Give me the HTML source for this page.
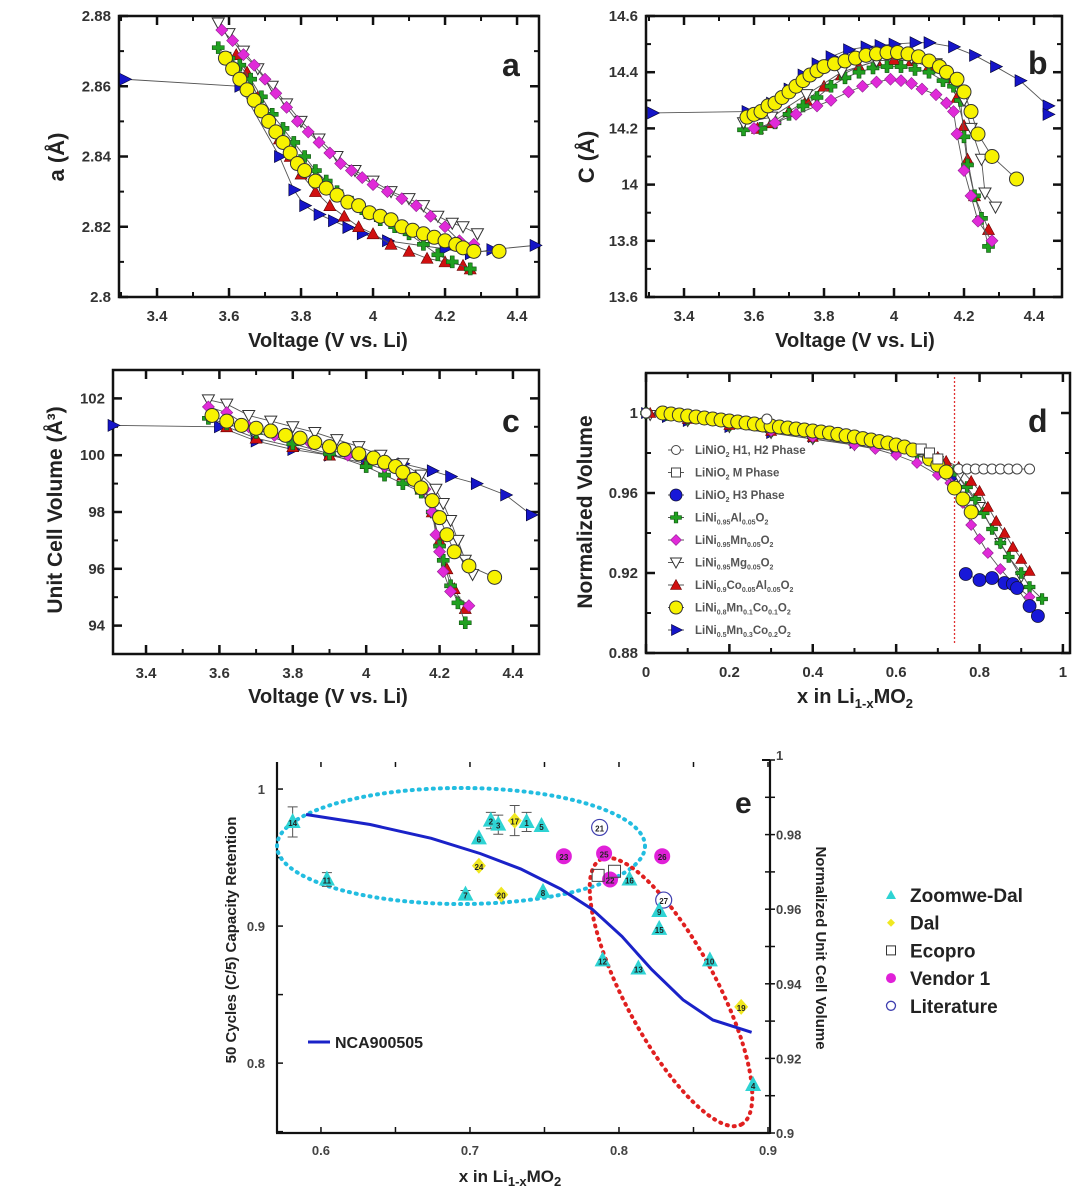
<!DOCTYPE html>
<html><head><meta charset="utf-8"><style>
body{margin:0;background:#fff;}
svg{display:block;font-family:"Liberation Sans",Arial,sans-serif;}
</style></head><body>
<svg id="fig" width="1080" height="1191" viewBox="0 0 1080 1191" xmlns="http://www.w3.org/2000/svg"></svg>
<script>
// ---------- data: panel a (voltage vs a) ----------
const aBlueV=[3.31,3.63,3.74,3.78,3.81,3.85,3.89,3.93,3.97,4.04,4.20,4.27,4.33,4.45];
const aBlueY=[2.862,2.860,2.840,2.8305,2.826,2.8235,2.8217,2.8198,2.818,2.816,2.8137,2.8123,2.8135,2.8147];
const aRedV=[3.62,3.65,3.68,3.71,3.74,3.77,3.80,3.84,3.88,3.92,3.96,4.0,4.05,4.1,4.15,4.2,4.25,4.27];
const aRedY=[2.869,2.864,2.857,2.851,2.845,2.840,2.835,2.830,2.826,2.823,2.820,2.818,2.815,2.813,2.811,2.810,2.809,2.808];
const aGreenV=[3.57,3.6,3.63,3.66,3.69,3.72,3.75,3.78,3.81,3.84,3.87,3.9,3.94,3.98,4.02,4.06,4.10,4.14,4.18,4.22,4.27];
const aGreenY=[2.871,2.868,2.866,2.862,2.857,2.852,2.848,2.844,2.840,2.836,2.833,2.830,2.827,2.824,2.822,2.820,2.818,2.815,2.812,2.810,2.808];
const aMgV=[3.57,3.6,3.64,3.68,3.72,3.76,3.8,3.85,3.9,3.95,4.0,4.05,4.1,4.14,4.18,4.22,4.25,4.29];
const aMgY=[2.878,2.875,2.870,2.865,2.860,2.855,2.850,2.845,2.840,2.836,2.833,2.830,2.828,2.826,2.823,2.821,2.820,2.818];
const aMnV=[3.58,3.61,3.64,3.67,3.70,3.73,3.76,3.79,3.82,3.85,3.88,3.91,3.94,3.97,4.0,4.04,4.08,4.12,4.16,4.20,4.24,4.28];
const aMnY=[2.876,2.873,2.869,2.866,2.862,2.858,2.854,2.850,2.847,2.844,2.841,2.838,2.836,2.834,2.832,2.830,2.828,2.826,2.823,2.820,2.816,2.815];
const aYelV=[3.59,3.61,3.63,3.65,3.67,3.69,3.71,3.73,3.75,3.77,3.79,3.81,3.84,3.87,3.90,3.93,3.96,3.99,4.02,4.05,4.08,4.11,4.14,4.17,4.20,4.23,4.25,4.28,4.35];
const aYelY=[2.868,2.865,2.862,2.859,2.856,2.853,2.850,2.847,2.844,2.841,2.838,2.836,2.833,2.831,2.829,2.827,2.826,2.824,2.823,2.822,2.820,2.819,2.818,2.817,2.816,2.815,2.814,2.813,2.813];
// ---------- panel b (voltage vs c) ----------
const bBlueV=[3.31,3.58,3.65,3.70,3.74,3.78,3.82,3.87,3.92,3.96,4.0,4.06,4.10,4.17,4.23,4.29,4.36,4.44,4.44];
const bBlueY=[14.255,14.26,14.29,14.34,14.39,14.43,14.455,14.48,14.49,14.495,14.5,14.505,14.505,14.49,14.46,14.42,14.37,14.28,14.25];
const bRedV=[3.61,3.65,3.7,3.75,3.8,3.85,3.9,3.95,4.0,4.05,4.1,4.15,4.18,4.2,4.21,4.23,4.27];
const bRedY=[14.2,14.22,14.26,14.30,14.35,14.39,14.42,14.44,14.445,14.44,14.42,14.38,14.31,14.21,14.09,13.96,13.84];
const bGreenV=[3.57,3.62,3.66,3.70,3.74,3.78,3.82,3.86,3.9,3.94,3.98,4.02,4.06,4.10,4.14,4.17,4.19,4.2,4.21,4.23,4.25,4.27];
const bGreenY=[14.195,14.20,14.22,14.25,14.28,14.31,14.35,14.38,14.40,14.415,14.42,14.42,14.41,14.40,14.37,14.35,14.30,14.17,14.07,13.96,13.88,13.78];
const bMgV=[3.57,3.65,3.75,3.85,3.95,4.05,4.12,4.17,4.2,4.22,4.25,4.26,4.29];
const bMgY=[14.22,14.24,14.32,14.40,14.44,14.45,14.43,14.38,14.30,14.20,14.09,13.97,13.92];
const bMnV=[3.6,3.66,3.72,3.78,3.82,3.87,3.91,3.95,3.99,4.02,4.05,4.08,4.12,4.15,4.17,4.18,4.2,4.22,4.24,4.28];
const bMnY=[14.2,14.22,14.25,14.28,14.30,14.33,14.35,14.365,14.375,14.37,14.36,14.34,14.32,14.29,14.26,14.18,14.05,13.96,13.87,13.80];
const bYelV=[3.58,3.6,3.62,3.64,3.66,3.68,3.70,3.72,3.74,3.76,3.78,3.80,3.83,3.86,3.89,3.92,3.95,3.98,4.01,4.04,4.07,4.1,4.13,4.15,4.18,4.2,4.22,4.24,4.28,4.35];
const bYelY=[14.24,14.25,14.26,14.28,14.29,14.31,14.33,14.35,14.37,14.39,14.405,14.42,14.43,14.44,14.45,14.46,14.465,14.47,14.47,14.465,14.455,14.44,14.42,14.40,14.375,14.33,14.26,14.18,14.10,14.02];
// ---------- panel c (voltage vs volume) ----------
const cBlueV=[3.31,3.6,3.7,3.8,3.9,4.0,4.1,4.18,4.23,4.3,4.38,4.45];
const cBlueY=[101.05,101.0,100.5,100.2,100.0,99.85,99.7,99.45,99.25,99.0,98.6,97.9];
const cRedV=[3.62,3.7,3.8,3.9,4.0,4.1,4.15,4.18,4.2,4.22,4.24,4.27];
const cRedY=[101.0,100.6,100.3,100.0,99.7,99.3,98.8,98.0,97.0,96.0,95.3,94.6];
const cGreenV=[3.57,3.62,3.7,3.8,3.9,4.0,4.05,4.1,4.15,4.18,4.2,4.21,4.23,4.25,4.27];
const cGreenY=[101.3,101.1,100.8,100.4,100.05,99.6,99.3,99.0,98.7,98.0,96.8,96.3,95.4,94.8,94.1];
const cMgV=[3.57,3.62,3.68,3.74,3.8,3.86,3.92,3.98,4.04,4.1,4.15,4.19,4.21,4.23,4.25,4.27,4.29];
const cMgY=[101.95,101.8,101.4,101.2,101.0,100.8,100.55,100.3,100.0,99.7,99.3,98.8,98.3,97.7,97.0,96.3,95.8];
const cMnV=[3.57,3.62,3.68,3.75,3.85,3.95,4.05,4.12,4.16,4.18,4.19,4.2,4.21,4.23,4.28];
const cMnY=[101.7,101.5,101.0,100.7,100.4,100.0,99.6,99.2,98.8,98.0,97.2,96.6,95.9,95.2,94.7];
const cYelV=[3.58,3.62,3.66,3.7,3.74,3.78,3.82,3.86,3.9,3.94,3.98,4.02,4.05,4.08,4.1,4.13,4.15,4.18,4.2,4.22,4.24,4.28,4.35];
const cYelY=[101.4,101.2,101.05,100.95,100.85,100.7,100.6,100.45,100.3,100.2,100.05,99.9,99.75,99.6,99.4,99.15,98.85,98.4,97.8,97.2,96.6,96.1,95.7];
// ---------- panel d (x vs normalized volume) ----------
const dOcX=[0,0.29,0.75,0.77,0.79,0.81,0.83,0.85,0.87,0.89,0.92];
const dOcY=[1.0,0.997,0.972,0.972,0.972,0.972,0.972,0.972,0.972,0.972,0.972];
const dOsX=[0.66,0.68,0.70];
const dOsY=[0.982,0.980,0.977];
const dBcX=[0.767,0.80,0.83,0.86,0.88,0.89,0.92,0.94];
const dBcY=[0.9195,0.9165,0.9175,0.915,0.9145,0.9125,0.9035,0.8985];
const dBlueX=[0,0.05,0.1,0.2,0.3,0.4,0.5,0.6,0.7,0.74];
const dBlueY=[1.0,0.998,0.996,0.993,0.990,0.988,0.985,0.982,0.976,0.968];
const dGreenX=[0,0.05,0.1,0.2,0.3,0.4,0.5,0.6,0.65,0.7,0.74,0.77,0.79,0.81,0.83,0.85,0.87,0.9,0.92,0.95];
const dGreenY=[1.0,0.999,0.997,0.994,0.991,0.988,0.985,0.982,0.980,0.977,0.971,0.963,0.957,0.950,0.942,0.935,0.928,0.920,0.913,0.907];
const dRedX=[0.01,0.1,0.2,0.3,0.4,0.5,0.6,0.7,0.72,0.75,0.78,0.8,0.82,0.84,0.86,0.88,0.9,0.92];
const dRedY=[1.0,0.997,0.994,0.991,0.988,0.986,0.983,0.978,0.976,0.973,0.966,0.961,0.953,0.946,0.940,0.933,0.927,0.921];
const dMgX=[0.01,0.1,0.2,0.3,0.4,0.5,0.6,0.7,0.75,0.8,0.85,0.9];
const dMgY=[0.999,0.996,0.993,0.990,0.987,0.984,0.981,0.976,0.968,0.953,0.935,0.918];
const dMnX=[0.3,0.4,0.5,0.55,0.6,0.65,0.7,0.73,0.76,0.78,0.8,0.82,0.85,0.88,0.92];
const dMnY=[0.991,0.988,0.984,0.982,0.979,0.975,0.969,0.965,0.955,0.944,0.937,0.930,0.922,0.915,0.908];
const dYelX=[0.04,0.06,0.08,0.10,0.12,0.14,0.16,0.18,0.20,0.22,0.24,0.26,0.28,0.30,0.32,0.34,0.36,0.38,0.40,0.42,0.44,0.46,0.48,0.50,0.52,0.54,0.56,0.58,0.60,0.62,0.64,0.68,0.70,0.72,0.74,0.76,0.78];
const dYelY=[1.0,0.9995,0.999,0.9985,0.998,0.9975,0.997,0.9965,0.996,0.9955,0.995,0.9945,0.994,0.9935,0.993,0.9925,0.992,0.9915,0.991,0.9905,0.990,0.9893,0.9886,0.988,0.9872,0.9865,0.9857,0.985,0.984,0.983,0.9815,0.977,0.974,0.9705,0.9625,0.957,0.9505];
const dPhaseLineX=0.74;
// ---------- panel e (x vs retention) ----------
const eLabels=["14","11","6","2","3","17","1","5","24","7","20","8","23","21","25","22","26","E1","E2","16","27","9","15","12","13","10","19","4"];
const eKinds=["tri","tri","tri","tri","tri","dia","tri","tri","dia","tri","dia","tri","mag","lit","mag","mag","mag","sq","sq","tri","lit","tri","tri","tri","tri","tri","dia","tri"];
const eX=[0.581,0.604,0.706,0.714,0.719,0.730,0.738,0.748,0.706,0.697,0.721,0.749,0.763,0.787,0.79,0.794,0.829,0.786,0.797,0.807,0.83,0.827,0.827,0.789,0.813,0.861,0.882,0.89];
const eY=[0.976,0.934,0.964,0.977,0.974,0.977,0.976,0.973,0.944,0.923,0.923,0.925,0.951,0.972,0.953,0.934,0.951,0.937,0.940,0.934,0.919,0.911,0.898,0.875,0.869,0.875,0.841,0.784];
const eErr=[0.011,0.005,0,0.006,0.007,0.011,0.007,0,0,0.003,0,0,0,0,0,0,0,0,0,0,0,0,0,0,0,0,0,0];
const eLineX=[0.59,0.633,0.674,0.707,0.734,0.761,0.782,0.802,0.822,0.843,0.863,0.889];
const eLineY=[0.9854,0.9827,0.979,0.9749,0.9708,0.9654,0.96,0.9527,0.9438,0.9357,0.9303,0.927];

const NS="http://www.w3.org/2000/svg";
const svg=document.getElementById('fig');
function el(tag,attrs,parent){const e=document.createElementNS(NS,tag);for(const k in attrs)e.setAttribute(k,attrs[k]);(parent||svg).appendChild(e);return e;}
function txt(s,attrs,parent){const t=el('text',attrs,parent);t.textContent=s;return t;}

function makePanel(name,L,R,T,B,x0,x1,y0,y1){
  const g=el('g',{});
  
  
  return {g,L,R,T,B,sx:v=>L+(v-x0)/(x1-x0)*(R-L),sy:v=>B-(v-y0)/(y1-y0)*(B-T)};
}
function frame(p,xt,xminor,yt,yminor,xdec,ydec,opts){
  opts=opts||{};
  const box=el('rect',{x:p.L,y:p.T,width:p.R-p.L,height:p.B-p.T,fill:'none',stroke:'#111','stroke-width':2.5},p.g);
  
  
  xminor.forEach(v=>{const x=p.sx(v);el('line',{x1:x,y1:p.B,x2:x,y2:p.B-5,stroke:'#111','stroke-width':2},p.g);el('line',{x1:x,y1:p.T,x2:x,y2:p.T+5,stroke:'#111','stroke-width':2},p.g);});
  yminor.forEach(v=>{const y=p.sy(v);el('line',{x1:p.L,y1:y,x2:p.L+5,y2:y,stroke:'#111','stroke-width':2},p.g);el('line',{x1:p.R,y1:y,x2:p.R-5,y2:y,stroke:'#111','stroke-width':2},p.g);});
  xt.forEach(v=>{const x=p.sx(v);el('line',{x1:x,y1:p.B,x2:x,y2:p.B-9,stroke:'#111','stroke-width':2.5},p.g);el('line',{x1:x,y1:p.T,x2:x,y2:p.T+9,stroke:'#111','stroke-width':2.5},p.g);
    const t=txt(v.toFixed(xdec).replace(/^(\d)\.0+$/,'$1').replace(/\.?0+$/,m=>m.startsWith('.')?'':m),{x:x,y:p.B+24,'text-anchor':'middle','font-size':15,'font-weight':'bold',fill:'#333'},p.g);
    });
  yt.forEach(v=>{const y=p.sy(v);el('line',{x1:p.L,y1:y,x2:p.L+9,y2:y,stroke:'#111','stroke-width':2.5},p.g);el('line',{x1:p.R,y1:y,x2:p.R-9,y2:y,stroke:'#111','stroke-width':2.5},p.g);
    let s=v.toFixed(ydec);if(ydec>0)s=s.replace(/0+$/,'').replace(/\.$/,'');
    const t=txt(s,{x:p.L-8,y:y+5,'text-anchor':'end','font-size':15,'font-weight':'bold',fill:'#333'},p.g);
    });
}
function marker(parent,type,x,y,s){
  let e;
  if(type==='yc')e=el('circle',{cx:x,cy:y,r:s+2,fill:'#f7f200',stroke:'#333','stroke-width':1},parent);
  else if(type==='oc')e=el('circle',{cx:x,cy:y,r:s,fill:'#fff',stroke:'#444','stroke-width':1},parent);
  else if(type==='bc')e=el('circle',{cx:x,cy:y,r:s+1.5,fill:'#1818d8',stroke:'#113','stroke-width':0.8},parent);
  else if(type==='os')e=el('rect',{x:x-s,y:y-s,width:2*s,height:2*s,fill:'#fff',stroke:'#444','stroke-width':1},parent);
  else if(type==='md')e=el('polygon',{points:`${x},${y-s-1} ${x+s+1},${y} ${x},${y+s+1} ${x-s-1},${y}`,fill:'#e02ad8',stroke:'#902090','stroke-width':0.6},parent);
  else if(type==='gp'){const a=s*0.4,b=s+1;e=el('polygon',{points:`${x-a},${y-b} ${x+a},${y-b} ${x+a},${y-a} ${x+b},${y-a} ${x+b},${y+a} ${x+a},${y+a} ${x+a},${y+b} ${x-a},${y+b} ${x-a},${y+a} ${x-b},${y+a} ${x-b},${y-a} ${x-a},${y-a}`,fill:'#20a020',stroke:'#105010','stroke-width':0.6},parent);}
  else if(type==='rt')e=el('polygon',{points:`${x},${y-s-1} ${x+s+1},${y+s} ${x-s-1},${y+s}`,fill:'#d01010',stroke:'#600','stroke-width':0.6},parent);
  else if(type==='ot')e=el('polygon',{points:`${x-s-1},${y-s} ${x+s+1},${y-s} ${x},${y+s+1}`,fill:'#fff',stroke:'#333','stroke-width':1},parent);
  else if(type==='bt')e=el('polygon',{points:`${x-s},${y-s-1} ${x+s+2},${y} ${x-s},${y+s+1}`,fill:'#1515c8',stroke:'#003','stroke-width':0.6},parent);
  return e;
}
function series(p,name,xs,ys,type,s){
  const g=el('g',{},p.g);
  
  
  const pts=xs.map((v,i)=>p.sx(v)+','+p.sy(ys[i])).join(' ');
  el('polyline',{points:pts,fill:'none',stroke:'#555','stroke-width':0.9},g);
  xs.forEach((v,i)=>{const m=marker(g,type,p.sx(v),p.sy(ys[i]),s);});
}
function label(s,attrs,name,parent){const t=txt(s,attrs,parent);return t;}
const range=(a,b,st)=>{const r=[];for(let v=a;v<=b+1e-9;v+=st)r.push(+v.toFixed(4));return r;};
const F='font-weight:bold;fill:#222;';

// Panel a
const pa=makePanel('panel-a',119,539,16,297,3.2944,4.461,2.8,2.88);
frame(pa,range(3.4,4.4,0.2),range(3.3,4.4,0.1),range(2.8,2.88,0.02),range(2.8,2.88,0.01),1,2);
series(pa,'a-ncm622',aBlueV,aBlueY,'bt',5);
series(pa,'a-nca',aRedV,aRedY,'rt',5);
series(pa,'a-al',aGreenV,aGreenY,'gp',5);
series(pa,'a-mg',aMgV,aMgY,'ot',5);
series(pa,'a-mn',aMnV,aMnY,'md',5);
series(pa,'a-ncm811',aYelV,aYelY,'yc',5);
label('a',{x:502,y:76,'font-size':32,style:F},'panel-label-a',pa.g);
label('Voltage (V vs. Li)',{x:328,y:347,'text-anchor':'middle','font-size':20,style:F},'x-axis-title-a',pa.g);
label('a (Å)',{x:0,y:0,transform:'translate(64,157) rotate(-90)','text-anchor':'middle','font-size':22,style:F},'y-axis-title-a',pa.g);

// Panel b
const pb=makePanel('panel-b',646,1062,16,297,3.2914,4.48,13.6,14.6);
frame(pb,range(3.4,4.4,0.2),range(3.3,4.4,0.1),range(13.6,14.6,0.2),range(13.6,14.6,0.1),1,1);
series(pb,'b-ncm622',bBlueV,bBlueY,'bt',5);
series(pb,'b-nca',bRedV,bRedY,'rt',5);
series(pb,'b-al',bGreenV,bGreenY,'gp',5);
series(pb,'b-mg',bMgV,bMgY,'ot',5);
series(pb,'b-mn',bMnV,bMnY,'md',5);
series(pb,'b-ncm811',bYelV,bYelY,'yc',5);
label('b',{x:1028,y:74,'font-size':32,style:F},'panel-label-b',pb.g);
label('Voltage (V vs. Li)',{x:855,y:347,'text-anchor':'middle','font-size':20,style:F},'x-axis-title-b',pb.g);
label('C (Å)',{x:0,y:0,transform:'translate(594,157) rotate(-90)','text-anchor':'middle','font-size':22,style:F},'y-axis-title-b',pb.g);

// Panel c
const pc=makePanel('panel-c',113,539,370,654,3.31,4.471,93,103);
frame(pc,range(3.4,4.4,0.2),range(3.4,4.4,0.1),range(94,102,2),range(93,103,1),1,0);
series(pc,'c-ncm622',cBlueV,cBlueY,'bt',5);
series(pc,'c-nca',cRedV,cRedY,'rt',5);
series(pc,'c-al',cGreenV,cGreenY,'gp',5);
series(pc,'c-mg',cMgV,cMgY,'ot',5);
series(pc,'c-mn',cMnV,cMnY,'md',5);
series(pc,'c-ncm811',cYelV,cYelY,'yc',5);
label('c',{x:502,y:432,'font-size':32,style:F},'panel-label-c',pc.g);
label('Voltage (V vs. Li)',{x:328,y:703,'text-anchor':'middle','font-size':20,style:F},'x-axis-title-c',pc.g);
label('Unit Cell Volume (Å³)',{x:0,y:0,transform:'translate(62,510) rotate(-90)','text-anchor':'middle','font-size':21,style:F},'y-axis-title-c',pc.g);

// Panel d
const pd=makePanel('panel-d',646,1070,373,653,0,1.017,0.88,1.02);
frame(pd,range(0,1,0.2),range(0,1,0.1),range(0.88,1,0.04),range(0.88,1.02,0.02),1,2);
el('line',{x1:pd.sx(dPhaseLineX),y1:377,x2:pd.sx(dPhaseLineX),y2:645,stroke:'#e03030','stroke-width':1.3,'stroke-dasharray':'2,2'},pd.g);
series(pd,'d-ncm622',dBlueX,dBlueY,'bt',4.5);
series(pd,'d-mg',dMgX,dMgY,'ot',4.5);
series(pd,'d-al',dGreenX,dGreenY,'gp',4.5);
series(pd,'d-nca',dRedX,dRedY,'rt',4.5);
series(pd,'d-mn',dMnX,dMnY,'md',4.5);
series(pd,'d-h1h2',dOcX.slice(2),dOcY.slice(2),'oc',5);
series(pd,'d-ncm811',dYelX,dYelY,'yc',5);
series(pd,'d-m-phase',dOsX,dOsY,'os',5);
series(pd,'d-h3',dBcX,dBcY,'bc',5);
[0,1].forEach(i=>{const m=marker(pd.g,'oc',pd.sx(dOcX[i]),pd.sy(dOcY[i]),5);});
label('d',{x:1028,y:432,'font-size':32,style:F},'panel-label-d',pd.g);
const xt=label('x in Li',{x:855,y:703,'text-anchor':'middle','font-size':20,style:F},'x-axis-title-d',pd.g);
xt.innerHTML='x in Li<tspan font-size="13" dy="5">1-x</tspan><tspan dy="-5">MO</tspan><tspan font-size="13" dy="5">2</tspan>';
label('Normalized Volume',{x:0,y:0,transform:'translate(592,512) rotate(-90)','text-anchor':'middle','font-size':21,style:F},'y-axis-title-d',pd.g);
// legend d
const legD=el('g',{},pd.g);


const legTypes=['oc','os','bc','gp','md','ot','rt','yc','bt'];
const legTexts=['LiNiO<tspan font-size="7" dy="3">2</tspan><tspan dy="-3"> H1, H2 Phase</tspan>','LiNiO<tspan font-size="7" dy="3">2</tspan><tspan dy="-3"> M Phase</tspan>','LiNiO<tspan font-size="7" dy="3">2</tspan><tspan dy="-3"> H3 Phase</tspan>',
'LiNi<tspan font-size="7" dy="3">0.95</tspan><tspan dy="-3">Al</tspan><tspan font-size="7" dy="3">0.05</tspan><tspan dy="-3">O</tspan><tspan font-size="7" dy="3">2</tspan>',
'LiNi<tspan font-size="7" dy="3">0.95</tspan><tspan dy="-3">Mn</tspan><tspan font-size="7" dy="3">0.05</tspan><tspan dy="-3">O</tspan><tspan font-size="7" dy="3">2</tspan>',
'LiNi<tspan font-size="7" dy="3">0.95</tspan><tspan dy="-3">Mg</tspan><tspan font-size="7" dy="3">0.05</tspan><tspan dy="-3">O</tspan><tspan font-size="7" dy="3">2</tspan>',
'LiNi<tspan font-size="7" dy="3">0.9</tspan><tspan dy="-3">Co</tspan><tspan font-size="7" dy="3">0.05</tspan><tspan dy="-3">Al</tspan><tspan font-size="7" dy="3">0.05</tspan><tspan dy="-3">O</tspan><tspan font-size="7" dy="3">2</tspan>',
'LiNi<tspan font-size="7" dy="3">0.8</tspan><tspan dy="-3">Mn</tspan><tspan font-size="7" dy="3">0.1</tspan><tspan dy="-3">Co</tspan><tspan font-size="7" dy="3">0.1</tspan><tspan dy="-3">O</tspan><tspan font-size="7" dy="3">2</tspan>',
'LiNi<tspan font-size="7" dy="3">0.5</tspan><tspan dy="-3">Mn</tspan><tspan font-size="7" dy="3">0.3</tspan><tspan dy="-3">Co</tspan><tspan font-size="7" dy="3">0.2</tspan><tspan dy="-3">O</tspan><tspan font-size="7" dy="3">2</tspan>'];
legTypes.forEach((t,i)=>{const y=450+i*22.5;
  el('line',{x1:668,y1:y,x2:684,y2:y,stroke:'#555','stroke-width':1},legD);
  marker(legD,t,676,y,4.5);
  const tt=el('text',{x:695,y:y+4,'font-size':11.5,'font-weight':'bold',fill:'#555'},legD);
  tt.innerHTML=legTexts[i];
  });

// Panel e
const pe=makePanel('panel-e',277,768,760,1133,0.5705,0.9,0.749,1.0212);
const syR=v=>1133-(v-0.9)/0.1*373;
const ge=pe.g;
el('line',{x1:277,y1:762,x2:277,y2:1133,stroke:'#111','stroke-width':2.2},ge);
el('line',{x1:276,y1:1133,x2:770,y2:1133,stroke:'#111','stroke-width':2.2},ge);
el('line',{x1:770,y1:760,x2:770,y2:1134,stroke:'#111','stroke-width':2.2},ge);
el('line',{x1:762,y1:760,x2:770,y2:760,stroke:'#111','stroke-width':2},ge);
range(0.6,0.9,0.05).forEach(v=>{const x=pe.sx(v);el('line',{x1:x,y1:1133,x2:x,y2:1127,stroke:'#111','stroke-width':1.5},ge);el('line',{x1:x,y1:762,x2:x,y2:767,stroke:'#111','stroke-width':1.5},ge);});
range(0.6,0.9,0.1).forEach(v=>{const t=label(v.toFixed(1),{x:pe.sx(v),y:1155,'text-anchor':'middle','font-size':13,'font-weight':'bold',fill:'#444'},'x-tick-label-e',ge);});
range(0.75,1.0,0.05).forEach(v=>{const y=pe.sy(v);el('line',{x1:277,y1:y,x2:283,y2:y,stroke:'#111','stroke-width':1.5},ge);});
[0.8,0.9,1].forEach(v=>{label(String(v),{x:265,y:pe.sy(v)+5,'text-anchor':'end','font-size':13,'font-weight':'bold',fill:'#444'},'y-tick-label-e',ge);});
range(0.9,1.0,0.01).forEach(v=>{const y=syR(v);el('line',{x1:765,y1:y,x2:775,y2:y,stroke:'#111','stroke-width':1.5},ge);});
[0.9,0.92,0.94,0.96,0.98,1].forEach(v=>{label(String(v),{x:776,y:syR(v)+(v===1?0:5),'font-size':13,'font-weight':'bold',fill:'#444'},'y2-tick-label-e',ge);});
el('ellipse',{cx:461,cy:846,rx:184,ry:58,fill:'none',stroke:'#22bde0','stroke-width':4,'stroke-dasharray':'1,6','stroke-linecap':'round'},ge);
el('ellipse',{cx:0,cy:0,rx:150,ry:46,fill:'none',stroke:'#e02020','stroke-width':4,'stroke-dasharray':'1,6','stroke-linecap':'round',transform:'translate(671,992) rotate(62)'},ge);
const lineE=el('polyline',{points:eLineX.map((v,i)=>pe.sx(v)+','+syR(eLineY[i])).join(' '),fill:'none',stroke:'#1a22c8','stroke-width':3},ge);


eX.forEach((v,i)=>{const x=pe.sx(v),y=pe.sy(eY[i]);
  const g=el('g',{},ge);
  
  
  if(eErr[i]){const d=eErr[i]*1370;el('path',{d:`M${x},${y-d}V${y+d}M${x-5},${y-d}H${x+5}M${x-5},${y+d}H${x+5}`,stroke:'#555','stroke-width':1,fill:'none'},g);}
  const k=eKinds[i];
  if(k==='tri')el('polygon',{points:`${x},${y-9} ${x+8},${y+6} ${x-8},${y+6}`,fill:'#2ed3d3'},g);
  else if(k==='dia')el('polygon',{points:`${x},${y-8} ${x+7},${y} ${x},${y+8} ${x-7},${y}`,fill:'#f0e820'},g);
  else if(k==='mag')el('circle',{cx:x,cy:y,r:8,fill:'#e020d8'},g);
  else if(k==='lit')el('circle',{cx:x,cy:y,r:8,fill:'#fff',stroke:'#4040b0','stroke-width':1.2},g);
  else el('rect',{x:x-6,y:y-6,width:12,height:12,fill:'none',stroke:'#444','stroke-width':1},g);
  if(k!=='sq')txt(eLabels[i],{x:x,y:y+4,'text-anchor':'middle','font-size':8,'font-weight':'bold',fill:'#222'},g);
});
label('e',{x:735,y:813,'font-size':30,style:F},'panel-label-e',ge);
const xte=label('x in Li',{x:510,y:1182,'text-anchor':'middle','font-size':17,style:F},'x-axis-title-e',ge);
xte.innerHTML='x in Li<tspan font-size="13" dy="4">1-x</tspan><tspan dy="-4">MO</tspan><tspan font-size="13" dy="4">2</tspan>';
label('50 Cycles (C/5) Capacity Retention',{x:0,y:0,transform:'translate(236,940) rotate(-90)','text-anchor':'middle','font-size':15,style:F},'y-axis-title-e',ge);
label('Normalized Unit Cell Volume',{x:0,y:0,transform:'translate(816,948) rotate(90)','text-anchor':'middle','font-size':15,style:F},'y2-axis-title-e',ge);
el('line',{x1:308,y1:1042,x2:330,y2:1042,stroke:'#1a22c8','stroke-width':3},ge);
label('NCA900505',{x:335,y:1048,'font-size':16,style:F},'legend-nca900505',ge);
// legend e
const legE=el('g',{},ge);


const leNames=['Zoomwe-Dal','Dal','Ecopro','Vendor 1','Literature'];
leNames.forEach((n,i)=>{const y=895+i*27.7,x=891;
  if(i===0)el('polygon',{points:`${x},${y-5} ${x+5},${y+4} ${x-5},${y+4}`,fill:'#2ed3d3'},legE);
  if(i===1)el('polygon',{points:`${x},${y-4} ${x+4},${y} ${x},${y+4} ${x-4},${y}`,fill:'#f0e820'},legE);
  if(i===2)el('rect',{x:x-4.5,y:y-4.5,width:9,height:9,fill:'none',stroke:'#333','stroke-width':1},legE);
  if(i===3)el('circle',{cx:x,cy:y,r:5,fill:'#e020d8'},legE);
  if(i===4)el('circle',{cx:x,cy:y,r:4.5,fill:'none',stroke:'#4040b0','stroke-width':1.3},legE);
  const t=txt(n,{x:910,y:y+7,'font-size':19,'font-weight':'bold',fill:'#222'},legE);
  
});
</script>
</body></html>
